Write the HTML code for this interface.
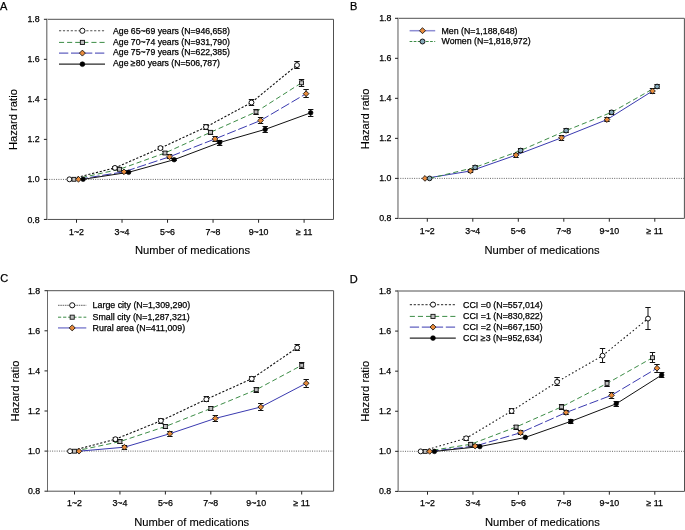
<!DOCTYPE html>
<html><head><meta charset="utf-8"><style>
html,body{margin:0;padding:0;background:#fff;width:685px;height:530px;overflow:hidden}
svg{display:block;will-change:transform;filter:blur(0.3px)}
text{font-family:"Liberation Sans", sans-serif;fill:#000;stroke:#000;stroke-width:0.25px}
</style></head><body>
<svg width="685" height="530" viewBox="0 0 685 530">
<rect width="685" height="530" fill="#fff"/>
<path d="M46.4 219.45H333.5V19.3H46.4" fill="none" stroke="#505050" stroke-width="1"/>
<rect x="46" y="19.3" width="1" height="200.15" fill="#8a8a8a"/>
<rect x="47" y="19.3" width="1" height="200.15" fill="#c8c8c8"/>
<line x1="43.9" y1="219.45" x2="46.9" y2="219.45" stroke="#222" stroke-width="1"/>
<text x="39.7" y="222.5" text-anchor="end" font-size="8.8">0.8</text>
<line x1="43.9" y1="179.42" x2="46.9" y2="179.42" stroke="#222" stroke-width="1"/>
<text x="39.7" y="182.47" text-anchor="end" font-size="8.8">1.0</text>
<line x1="43.9" y1="139.39" x2="46.9" y2="139.39" stroke="#222" stroke-width="1"/>
<text x="39.7" y="142.44" text-anchor="end" font-size="8.8">1.2</text>
<line x1="43.9" y1="99.36" x2="46.9" y2="99.36" stroke="#222" stroke-width="1"/>
<text x="39.7" y="102.41" text-anchor="end" font-size="8.8">1.4</text>
<line x1="43.9" y1="59.33" x2="46.9" y2="59.33" stroke="#222" stroke-width="1"/>
<text x="39.7" y="62.38" text-anchor="end" font-size="8.8">1.6</text>
<line x1="43.9" y1="19.3" x2="46.9" y2="19.3" stroke="#222" stroke-width="1"/>
<text x="39.7" y="22.35" text-anchor="end" font-size="8.8">1.8</text>
<line x1="76.5" y1="219.45" x2="76.5" y2="222.75" stroke="#222" stroke-width="1"/>
<text x="76.5" y="234.7" text-anchor="middle" font-size="8.8">1~2</text>
<line x1="122.02" y1="219.45" x2="122.02" y2="222.75" stroke="#222" stroke-width="1"/>
<text x="122.02" y="234.7" text-anchor="middle" font-size="8.8">3~4</text>
<line x1="167.54" y1="219.45" x2="167.54" y2="222.75" stroke="#222" stroke-width="1"/>
<text x="167.54" y="234.7" text-anchor="middle" font-size="8.8">5~6</text>
<line x1="213.06" y1="219.45" x2="213.06" y2="222.75" stroke="#222" stroke-width="1"/>
<text x="213.06" y="234.7" text-anchor="middle" font-size="8.8">7~8</text>
<line x1="258.58" y1="219.45" x2="258.58" y2="222.75" stroke="#222" stroke-width="1"/>
<text x="258.58" y="234.7" text-anchor="middle" font-size="8.8">9~10</text>
<line x1="304.1" y1="219.45" x2="304.1" y2="222.75" stroke="#222" stroke-width="1"/>
<text x="304.1" y="234.7" text-anchor="middle" font-size="8.8">≥ 11</text>
<text x="192.5" y="254.1" text-anchor="middle" font-size="11.2" style="stroke-width:0.12px">Number of medications</text>
<text transform="translate(16.9 119.6) rotate(-90)" text-anchor="middle" font-size="11.2" style="stroke-width:0.12px">Hazard ratio</text>
<text x="0.1" y="9.6" font-size="11">A</text>
<line x1="46.9" y1="179.42" x2="333.5" y2="179.42" stroke="#555" stroke-width="0.9" stroke-dasharray="1 1.3"/>
<path d="M69.4 179.3 L114.92 167.9 L160.44 148.1 L205.96 127 L251.48 102.5 L297 65.1" fill="none" stroke="#111" stroke-width="1.1" stroke-dasharray="2.2 1.7"/>
<path d="M73.95 179.3 L119.47 169.3 L164.99 153 L210.51 132.3 L256.03 111.9 L301.55 82.8" fill="none" stroke="#3c8c46" stroke-width="1.0" stroke-dasharray="5.1 3.0"/>
<path d="M78.5 179.3 L124.02 171.8 L169.54 156.8 L215.06 138.9 L260.58 120.5 L306.1 93.7" fill="none" stroke="#3a3ab0" stroke-width="1.0" stroke-dasharray="9.3 2.7"/>
<path d="M83.1 179.3 L128.62 172.3 L174.14 159.7 L219.66 142.5 L265.18 129.4 L310.7 112.8" fill="none" stroke="#111" stroke-width="1.0"/>
<path d="M114.92 166.5V169.5M112.22 166.5H117.62M112.22 169.5H117.62" fill="none" stroke="#111" stroke-width="1"/>
<path d="M160.44 146.5V149.5M157.74 146.5H163.14M157.74 149.5H163.14" fill="none" stroke="#111" stroke-width="1"/>
<path d="M205.96 124.5V129.5M203.26 124.5H208.66M203.26 129.5H208.66" fill="none" stroke="#111" stroke-width="1"/>
<path d="M251.48 99.5V105.5M248.78 99.5H254.18M248.78 105.5H254.18" fill="none" stroke="#111" stroke-width="1"/>
<path d="M297 61.5V68.5M294.3 61.5H299.7M294.3 68.5H299.7" fill="none" stroke="#111" stroke-width="1"/>
<circle cx="69.4" cy="179.3" r="2.45" fill="#fff" stroke="#111" stroke-width="1.0"/>
<circle cx="114.92" cy="167.9" r="2.45" fill="#fff" stroke="#111" stroke-width="1.0"/>
<circle cx="160.44" cy="148.1" r="2.45" fill="#fff" stroke="#111" stroke-width="1.0"/>
<circle cx="205.96" cy="127" r="2.45" fill="#fff" stroke="#111" stroke-width="1.0"/>
<circle cx="251.48" cy="102.5" r="2.45" fill="#fff" stroke="#111" stroke-width="1.0"/>
<circle cx="297" cy="65.1" r="2.45" fill="#fff" stroke="#111" stroke-width="1.0"/>
<path d="M119.47 167.5V170.5M116.77 167.5H122.17M116.77 170.5H122.17" fill="none" stroke="#111" stroke-width="1"/>
<path d="M164.99 151.5V154.5M162.29 151.5H167.69M162.29 154.5H167.69" fill="none" stroke="#111" stroke-width="1"/>
<path d="M210.51 130.5V134.5M207.81 130.5H213.21M207.81 134.5H213.21" fill="none" stroke="#111" stroke-width="1"/>
<path d="M256.03 109.5V114.5M253.33 109.5H258.73M253.33 114.5H258.73" fill="none" stroke="#111" stroke-width="1"/>
<path d="M301.55 79.5V86.5M298.85 79.5H304.25M298.85 86.5H304.25" fill="none" stroke="#111" stroke-width="1"/>
<rect x="72" y="177.35" width="3.9" height="3.9" fill="#c2c2c2" stroke="#111" stroke-width="0.9"/>
<rect x="117.52" y="167.35" width="3.9" height="3.9" fill="#c2c2c2" stroke="#111" stroke-width="0.9"/>
<rect x="163.04" y="151.05" width="3.9" height="3.9" fill="#c2c2c2" stroke="#111" stroke-width="0.9"/>
<rect x="208.56" y="130.35" width="3.9" height="3.9" fill="#c2c2c2" stroke="#111" stroke-width="0.9"/>
<rect x="254.08" y="109.95" width="3.9" height="3.9" fill="#c2c2c2" stroke="#111" stroke-width="0.9"/>
<rect x="299.6" y="80.85" width="3.9" height="3.9" fill="#c2c2c2" stroke="#111" stroke-width="0.9"/>
<path d="M124.02 170.5V173.5M121.32 170.5H126.72M121.32 173.5H126.72" fill="none" stroke="#111" stroke-width="1"/>
<path d="M169.54 154.5V158.5M166.84 154.5H172.24M166.84 158.5H172.24" fill="none" stroke="#111" stroke-width="1"/>
<path d="M215.06 136.5V141.5M212.36 136.5H217.76M212.36 141.5H217.76" fill="none" stroke="#111" stroke-width="1"/>
<path d="M260.58 117.5V123.5M257.88 117.5H263.28M257.88 123.5H263.28" fill="none" stroke="#111" stroke-width="1"/>
<path d="M306.1 89.5V97.5M303.4 89.5H308.8M303.4 97.5H308.8" fill="none" stroke="#111" stroke-width="1"/>
<path d="M78.5 176.45L81.35 179.3L78.5 182.15L75.65 179.3Z" fill="#e88b3c" stroke="#111" stroke-width="0.85"/>
<path d="M124.02 168.95L126.87 171.8L124.02 174.65L121.17 171.8Z" fill="#e88b3c" stroke="#111" stroke-width="0.85"/>
<path d="M169.54 153.95L172.39 156.8L169.54 159.65L166.69 156.8Z" fill="#e88b3c" stroke="#111" stroke-width="0.85"/>
<path d="M215.06 136.05L217.91 138.9L215.06 141.75L212.21 138.9Z" fill="#e88b3c" stroke="#111" stroke-width="0.85"/>
<path d="M260.58 117.65L263.43 120.5L260.58 123.35L257.73 120.5Z" fill="#e88b3c" stroke="#111" stroke-width="0.85"/>
<path d="M306.1 90.85L308.95 93.7L306.1 96.55L303.25 93.7Z" fill="#e88b3c" stroke="#111" stroke-width="0.85"/>
<path d="M174.14 158.5V160.5M171.44 158.5H176.84M171.44 160.5H176.84" fill="none" stroke="#111" stroke-width="1"/>
<path d="M219.66 140.5V145.5M216.96 140.5H222.36M216.96 145.5H222.36" fill="none" stroke="#111" stroke-width="1"/>
<path d="M265.18 126.5V132.5M262.48 126.5H267.88M262.48 132.5H267.88" fill="none" stroke="#111" stroke-width="1"/>
<path d="M310.7 109.5V116.5M308 109.5H313.4M308 116.5H313.4" fill="none" stroke="#111" stroke-width="1"/>
<circle cx="83.1" cy="179.3" r="2.3" fill="#000" stroke="#000" stroke-width="0.6"/>
<circle cx="128.62" cy="172.3" r="2.3" fill="#000" stroke="#000" stroke-width="0.6"/>
<circle cx="174.14" cy="159.7" r="2.3" fill="#000" stroke="#000" stroke-width="0.6"/>
<circle cx="219.66" cy="142.5" r="2.3" fill="#000" stroke="#000" stroke-width="0.6"/>
<circle cx="265.18" cy="129.4" r="2.3" fill="#000" stroke="#000" stroke-width="0.6"/>
<circle cx="310.7" cy="112.8" r="2.3" fill="#000" stroke="#000" stroke-width="0.6"/>
<line x1="59" y1="30.8" x2="105" y2="30.8" fill="none" stroke="#505050" stroke-width="1.1" stroke-dasharray="2.2 1.7"/>
<circle cx="82.4" cy="30.8" r="2.57" fill="#fff" stroke="#111" stroke-width="1.0"/>
<text x="113" y="33.7" font-size="8.7">Age 65~69 years (N=946,658)</text>
<line x1="59" y1="42.4" x2="105" y2="42.4" fill="none" stroke="#3c8c46" stroke-width="1.0" stroke-dasharray="5.1 3.0"/>
<rect x="80.35" y="40.35" width="4.09" height="4.09" fill="#c2c2c2" stroke="#111" stroke-width="0.9"/>
<text x="113" y="44.6" font-size="8.7">Age 70~74 years (N=931,790)</text>
<line x1="59" y1="53.1" x2="105" y2="53.1" fill="none" stroke="#3a3ab0" stroke-width="1.0" stroke-dasharray="9.3 2.7"/>
<path d="M82.4 50.11L85.39 53.1L82.4 56.09L79.41 53.1Z" fill="#e88b3c" stroke="#111" stroke-width="0.85"/>
<text x="113" y="55.4" font-size="8.7">Age 75~79 years (N=622,385)</text>
<line x1="59" y1="64.2" x2="105" y2="64.2" fill="none" stroke="#2a2a2a" stroke-width="1.25"/>
<circle cx="82.4" cy="64.2" r="2.42" fill="#000" stroke="#000" stroke-width="0.6"/>
<text x="113" y="66.3" font-size="8.7">Age ≥80 years (N=506,787)</text>
<path d="M397.5 218.4H684.4V18.3H397.5" fill="none" stroke="#505050" stroke-width="1"/>
<rect x="397" y="18.3" width="1" height="200.1" fill="#a8a8a8"/>
<rect x="398" y="18.3" width="1" height="200.1" fill="#b0b0b0"/>
<line x1="395" y1="218.4" x2="398" y2="218.4" stroke="#222" stroke-width="1"/>
<text x="391.4" y="221.45" text-anchor="end" font-size="8.8">0.8</text>
<line x1="395" y1="178.38" x2="398" y2="178.38" stroke="#222" stroke-width="1"/>
<text x="391.4" y="181.43" text-anchor="end" font-size="8.8">1.0</text>
<line x1="395" y1="138.36" x2="398" y2="138.36" stroke="#222" stroke-width="1"/>
<text x="391.4" y="141.41" text-anchor="end" font-size="8.8">1.2</text>
<line x1="395" y1="98.34" x2="398" y2="98.34" stroke="#222" stroke-width="1"/>
<text x="391.4" y="101.39" text-anchor="end" font-size="8.8">1.4</text>
<line x1="395" y1="58.32" x2="398" y2="58.32" stroke="#222" stroke-width="1"/>
<text x="391.4" y="61.37" text-anchor="end" font-size="8.8">1.6</text>
<line x1="395" y1="18.3" x2="398" y2="18.3" stroke="#222" stroke-width="1"/>
<text x="391.4" y="21.35" text-anchor="end" font-size="8.8">1.8</text>
<line x1="427.3" y1="218.4" x2="427.3" y2="221.7" stroke="#222" stroke-width="1"/>
<text x="427.3" y="233.9" text-anchor="middle" font-size="8.8">1~2</text>
<line x1="472.8" y1="218.4" x2="472.8" y2="221.7" stroke="#222" stroke-width="1"/>
<text x="472.8" y="233.9" text-anchor="middle" font-size="8.8">3~4</text>
<line x1="518.3" y1="218.4" x2="518.3" y2="221.7" stroke="#222" stroke-width="1"/>
<text x="518.3" y="233.9" text-anchor="middle" font-size="8.8">5~6</text>
<line x1="563.8" y1="218.4" x2="563.8" y2="221.7" stroke="#222" stroke-width="1"/>
<text x="563.8" y="233.9" text-anchor="middle" font-size="8.8">7~8</text>
<line x1="609.3" y1="218.4" x2="609.3" y2="221.7" stroke="#222" stroke-width="1"/>
<text x="609.3" y="233.9" text-anchor="middle" font-size="8.8">9~10</text>
<line x1="654.8" y1="218.4" x2="654.8" y2="221.7" stroke="#222" stroke-width="1"/>
<text x="654.8" y="233.9" text-anchor="middle" font-size="8.8">≥ 11</text>
<text x="542" y="254.1" text-anchor="middle" font-size="11.2" style="stroke-width:0.12px">Number of medications</text>
<text transform="translate(368.9 118.9) rotate(-90)" text-anchor="middle" font-size="11.2" style="stroke-width:0.12px">Hazard ratio</text>
<text x="349.9" y="9.8" font-size="11">B</text>
<line x1="398" y1="178.38" x2="684.4" y2="178.38" stroke="#555" stroke-width="0.9" stroke-dasharray="1 1.3"/>
<path d="M425 178.4 L470.5 171 L516 155.1 L561.5 137.8 L607 119.6 L652.5 91" fill="none" stroke="#3a3ab0" stroke-width="1.0"/>
<path d="M429.6 178.4 L475.1 167.4 L520.6 150.5 L566.1 130.6 L611.6 112.3 L657.1 86.5" fill="none" stroke="#3c8c46" stroke-width="1.0" stroke-dasharray="5.1 3.0"/>
<path d="M470.5 169.5V172.5M467.8 169.5H473.2M467.8 172.5H473.2" fill="none" stroke="#111" stroke-width="1"/>
<path d="M516 153.5V157.5M513.3 153.5H518.7M513.3 157.5H518.7" fill="none" stroke="#111" stroke-width="1"/>
<path d="M561.5 135.5V140.5M558.8 135.5H564.2M558.8 140.5H564.2" fill="none" stroke="#111" stroke-width="1"/>
<path d="M607 117.5V121.5M604.3 117.5H609.7M604.3 121.5H609.7" fill="none" stroke="#111" stroke-width="1"/>
<path d="M652.5 88.5V93.5M649.8 88.5H655.2M649.8 93.5H655.2" fill="none" stroke="#111" stroke-width="1"/>
<path d="M425 175.55L427.85 178.4L425 181.25L422.15 178.4Z" fill="#e88b3c" stroke="#111" stroke-width="0.85"/>
<path d="M470.5 168.15L473.35 171L470.5 173.85L467.65 171Z" fill="#e88b3c" stroke="#111" stroke-width="0.85"/>
<path d="M516 152.25L518.85 155.1L516 157.95L513.15 155.1Z" fill="#e88b3c" stroke="#111" stroke-width="0.85"/>
<path d="M561.5 134.95L564.35 137.8L561.5 140.65L558.65 137.8Z" fill="#e88b3c" stroke="#111" stroke-width="0.85"/>
<path d="M607 116.75L609.85 119.6L607 122.45L604.15 119.6Z" fill="#e88b3c" stroke="#111" stroke-width="0.85"/>
<path d="M652.5 88.15L655.35 91L652.5 93.85L649.65 91Z" fill="#e88b3c" stroke="#111" stroke-width="0.85"/>
<path d="M475.1 165.5V169.5M472.4 165.5H477.8M472.4 169.5H477.8" fill="none" stroke="#111" stroke-width="1"/>
<path d="M520.6 148.5V152.5M517.9 148.5H523.3M517.9 152.5H523.3" fill="none" stroke="#111" stroke-width="1"/>
<path d="M566.1 128.5V132.5M563.4 128.5H568.8M563.4 132.5H568.8" fill="none" stroke="#111" stroke-width="1"/>
<path d="M611.6 110.5V114.5M608.9 110.5H614.3M608.9 114.5H614.3" fill="none" stroke="#111" stroke-width="1"/>
<path d="M657.1 84.5V88.5M654.4 84.5H659.8M654.4 88.5H659.8" fill="none" stroke="#111" stroke-width="1"/>
<circle cx="429.6" cy="178.4" r="2.35" fill="#86aabb" stroke="#111" stroke-width="1.0"/>
<circle cx="475.1" cy="167.4" r="2.35" fill="#86aabb" stroke="#111" stroke-width="1.0"/>
<circle cx="520.6" cy="150.5" r="2.35" fill="#86aabb" stroke="#111" stroke-width="1.0"/>
<circle cx="566.1" cy="130.6" r="2.35" fill="#86aabb" stroke="#111" stroke-width="1.0"/>
<circle cx="611.6" cy="112.3" r="2.35" fill="#86aabb" stroke="#111" stroke-width="1.0"/>
<circle cx="657.1" cy="86.5" r="2.35" fill="#86aabb" stroke="#111" stroke-width="1.0"/>
<line x1="409.6" y1="30.7" x2="435.2" y2="30.7" fill="none" stroke="#8e8ed4" stroke-width="1.5"/>
<path d="M422.5 27.71L425.49 30.7L422.5 33.69L419.51 30.7Z" fill="#e88b3c" stroke="#111" stroke-width="0.85"/>
<text x="441.5" y="33.9" font-size="8.8">Men (N=1,188,648)</text>
<line x1="409.6" y1="41.5" x2="435.2" y2="41.5" fill="none" stroke="#3c8c46" stroke-width="1.0" stroke-dasharray="2.7 1.4"/>
<circle cx="422.5" cy="41.5" r="2.47" fill="#86aabb" stroke="#111" stroke-width="1.0"/>
<text x="441.5" y="44.3" font-size="8.8">Women (N=1,818,972)</text>
<path d="M47 491.2H333.6V290.7H47" fill="none" stroke="#505050" stroke-width="1"/>
<rect x="47" y="290.7" width="1" height="200.5" fill="#6a6a6a"/>
<line x1="44.5" y1="491.2" x2="47.5" y2="491.2" stroke="#222" stroke-width="1"/>
<text x="40.2" y="494.25" text-anchor="end" font-size="8.8">0.8</text>
<line x1="44.5" y1="451.1" x2="47.5" y2="451.1" stroke="#222" stroke-width="1"/>
<text x="40.2" y="454.15" text-anchor="end" font-size="8.8">1.0</text>
<line x1="44.5" y1="411" x2="47.5" y2="411" stroke="#222" stroke-width="1"/>
<text x="40.2" y="414.05" text-anchor="end" font-size="8.8">1.2</text>
<line x1="44.5" y1="370.9" x2="47.5" y2="370.9" stroke="#222" stroke-width="1"/>
<text x="40.2" y="373.95" text-anchor="end" font-size="8.8">1.4</text>
<line x1="44.5" y1="330.8" x2="47.5" y2="330.8" stroke="#222" stroke-width="1"/>
<text x="40.2" y="333.85" text-anchor="end" font-size="8.8">1.6</text>
<line x1="44.5" y1="290.7" x2="47.5" y2="290.7" stroke="#222" stroke-width="1"/>
<text x="40.2" y="293.75" text-anchor="end" font-size="8.8">1.8</text>
<line x1="74.5" y1="491.2" x2="74.5" y2="494.5" stroke="#222" stroke-width="1"/>
<text x="74.5" y="505.6" text-anchor="middle" font-size="8.8">1~2</text>
<line x1="119.94" y1="491.2" x2="119.94" y2="494.5" stroke="#222" stroke-width="1"/>
<text x="119.94" y="505.6" text-anchor="middle" font-size="8.8">3~4</text>
<line x1="165.38" y1="491.2" x2="165.38" y2="494.5" stroke="#222" stroke-width="1"/>
<text x="165.38" y="505.6" text-anchor="middle" font-size="8.8">5~6</text>
<line x1="210.82" y1="491.2" x2="210.82" y2="494.5" stroke="#222" stroke-width="1"/>
<text x="210.82" y="505.6" text-anchor="middle" font-size="8.8">7~8</text>
<line x1="256.26" y1="491.2" x2="256.26" y2="494.5" stroke="#222" stroke-width="1"/>
<text x="256.26" y="505.6" text-anchor="middle" font-size="8.8">9~10</text>
<line x1="301.7" y1="491.2" x2="301.7" y2="494.5" stroke="#222" stroke-width="1"/>
<text x="301.7" y="505.6" text-anchor="middle" font-size="8.8">≥ 11</text>
<text x="191.7" y="525.8" text-anchor="middle" font-size="11.2" style="stroke-width:0.12px">Number of medications</text>
<text transform="translate(18.6 391.1) rotate(-90)" text-anchor="middle" font-size="11.2" style="stroke-width:0.12px">Hazard ratio</text>
<text x="0.2" y="282.4" font-size="11">C</text>
<line x1="47.5" y1="451.1" x2="333.6" y2="451.1" stroke="#555" stroke-width="0.9" stroke-dasharray="1 1.3"/>
<path d="M70 451.2 L115.44 439.2 L160.88 420.8 L206.32 399.3 L251.76 378.8 L297.2 347.7" fill="none" stroke="#111" stroke-width="1.1" stroke-dasharray="2.2 1.7"/>
<path d="M74.5 451.2 L119.94 441.6 L165.38 426.5 L210.82 408.5 L256.26 389.7 L301.7 365.3" fill="none" stroke="#3c8c46" stroke-width="1.0" stroke-dasharray="5.1 3.0"/>
<path d="M79 451.2 L124.44 447.2 L169.88 433.7 L215.32 418.4 L260.76 407 L306.2 383.3" fill="none" stroke="#3a3ab0" stroke-width="1.0"/>
<path d="M115.44 437.5V441.5M112.74 437.5H118.14M112.74 441.5H118.14" fill="none" stroke="#111" stroke-width="1"/>
<path d="M160.88 418.5V423.5M158.18 418.5H163.58M158.18 423.5H163.58" fill="none" stroke="#111" stroke-width="1"/>
<path d="M206.32 396.5V401.5M203.62 396.5H209.02M203.62 401.5H209.02" fill="none" stroke="#111" stroke-width="1"/>
<path d="M251.76 376.5V381.5M249.06 376.5H254.46M249.06 381.5H254.46" fill="none" stroke="#111" stroke-width="1"/>
<path d="M297.2 344.5V350.5M294.5 344.5H299.9M294.5 350.5H299.9" fill="none" stroke="#111" stroke-width="1"/>
<circle cx="70" cy="451.2" r="2.45" fill="#fff" stroke="#111" stroke-width="1.0"/>
<circle cx="115.44" cy="439.2" r="2.45" fill="#fff" stroke="#111" stroke-width="1.0"/>
<circle cx="160.88" cy="420.8" r="2.45" fill="#fff" stroke="#111" stroke-width="1.0"/>
<circle cx="206.32" cy="399.3" r="2.45" fill="#fff" stroke="#111" stroke-width="1.0"/>
<circle cx="251.76" cy="378.8" r="2.45" fill="#fff" stroke="#111" stroke-width="1.0"/>
<circle cx="297.2" cy="347.7" r="2.45" fill="#fff" stroke="#111" stroke-width="1.0"/>
<path d="M119.94 439.5V443.5M117.24 439.5H122.64M117.24 443.5H122.64" fill="none" stroke="#111" stroke-width="1"/>
<path d="M165.38 424.5V428.5M162.68 424.5H168.08M162.68 428.5H168.08" fill="none" stroke="#111" stroke-width="1"/>
<path d="M210.82 406.5V410.5M208.12 406.5H213.52M208.12 410.5H213.52" fill="none" stroke="#111" stroke-width="1"/>
<path d="M256.26 387.5V392.5M253.56 387.5H258.96M253.56 392.5H258.96" fill="none" stroke="#111" stroke-width="1"/>
<path d="M301.7 362.5V368.5M299 362.5H304.4M299 368.5H304.4" fill="none" stroke="#111" stroke-width="1"/>
<rect x="72.55" y="449.25" width="3.9" height="3.9" fill="#c2c2c2" stroke="#111" stroke-width="0.9"/>
<rect x="117.99" y="439.65" width="3.9" height="3.9" fill="#c2c2c2" stroke="#111" stroke-width="0.9"/>
<rect x="163.43" y="424.55" width="3.9" height="3.9" fill="#c2c2c2" stroke="#111" stroke-width="0.9"/>
<rect x="208.87" y="406.55" width="3.9" height="3.9" fill="#c2c2c2" stroke="#111" stroke-width="0.9"/>
<rect x="254.31" y="387.75" width="3.9" height="3.9" fill="#c2c2c2" stroke="#111" stroke-width="0.9"/>
<rect x="299.75" y="363.35" width="3.9" height="3.9" fill="#c2c2c2" stroke="#111" stroke-width="0.9"/>
<path d="M124.44 445.5V449.5M121.74 445.5H127.14M121.74 449.5H127.14" fill="none" stroke="#111" stroke-width="1"/>
<path d="M169.88 431.5V436.5M167.18 431.5H172.58M167.18 436.5H172.58" fill="none" stroke="#111" stroke-width="1"/>
<path d="M215.32 415.5V421.5M212.62 415.5H218.02M212.62 421.5H218.02" fill="none" stroke="#111" stroke-width="1"/>
<path d="M260.76 403.5V410.5M258.06 403.5H263.46M258.06 410.5H263.46" fill="none" stroke="#111" stroke-width="1"/>
<path d="M306.2 379.5V387.5M303.5 379.5H308.9M303.5 387.5H308.9" fill="none" stroke="#111" stroke-width="1"/>
<path d="M79 448.35L81.85 451.2L79 454.05L76.15 451.2Z" fill="#e88b3c" stroke="#111" stroke-width="0.85"/>
<path d="M124.44 444.35L127.29 447.2L124.44 450.05L121.59 447.2Z" fill="#e88b3c" stroke="#111" stroke-width="0.85"/>
<path d="M169.88 430.85L172.73 433.7L169.88 436.55L167.03 433.7Z" fill="#e88b3c" stroke="#111" stroke-width="0.85"/>
<path d="M215.32 415.55L218.17 418.4L215.32 421.25L212.47 418.4Z" fill="#e88b3c" stroke="#111" stroke-width="0.85"/>
<path d="M260.76 404.15L263.61 407L260.76 409.85L257.91 407Z" fill="#e88b3c" stroke="#111" stroke-width="0.85"/>
<path d="M306.2 380.45L309.05 383.3L306.2 386.15L303.35 383.3Z" fill="#e88b3c" stroke="#111" stroke-width="0.85"/>
<line x1="58" y1="305.3" x2="86.3" y2="305.3" fill="none" stroke="#666" stroke-width="1.0" stroke-dasharray="1.6 0.7"/>
<circle cx="72.2" cy="305.3" r="2.57" fill="#fff" stroke="#111" stroke-width="1.0"/>
<text x="92.6" y="308.3" font-size="8.85">Large city (N=1,309,290)</text>
<line x1="58" y1="317.2" x2="86.3" y2="317.2" fill="none" stroke="#3c8c46" stroke-width="1.0" stroke-dasharray="3.2 1.9"/>
<rect x="70.15" y="315.15" width="4.09" height="4.09" fill="#c2c2c2" stroke="#111" stroke-width="0.9"/>
<text x="92.6" y="320" font-size="8.85">Small city (N=1,287,321)</text>
<line x1="58" y1="327.9" x2="86.3" y2="327.9" fill="none" stroke="#8e8ed4" stroke-width="1.6"/>
<path d="M72.2 324.91L75.19 327.9L72.2 330.89L69.21 327.9Z" fill="#e88b3c" stroke="#111" stroke-width="0.85"/>
<text x="92.6" y="331" font-size="8.85">Rural area (N=411,009)</text>
<path d="M397.6 491.4H684.5V291H397.6" fill="none" stroke="#505050" stroke-width="1"/>
<rect x="397" y="291" width="1" height="200.4" fill="#bdbdbd"/>
<rect x="398" y="291" width="1" height="200.4" fill="#999999"/>
<line x1="395.1" y1="491.4" x2="398.1" y2="491.4" stroke="#222" stroke-width="1"/>
<text x="391.2" y="494.45" text-anchor="end" font-size="8.8">0.8</text>
<line x1="395.1" y1="451.32" x2="398.1" y2="451.32" stroke="#222" stroke-width="1"/>
<text x="391.2" y="454.37" text-anchor="end" font-size="8.8">1.0</text>
<line x1="395.1" y1="411.24" x2="398.1" y2="411.24" stroke="#222" stroke-width="1"/>
<text x="391.2" y="414.29" text-anchor="end" font-size="8.8">1.2</text>
<line x1="395.1" y1="371.16" x2="398.1" y2="371.16" stroke="#222" stroke-width="1"/>
<text x="391.2" y="374.21" text-anchor="end" font-size="8.8">1.4</text>
<line x1="395.1" y1="331.08" x2="398.1" y2="331.08" stroke="#222" stroke-width="1"/>
<text x="391.2" y="334.13" text-anchor="end" font-size="8.8">1.6</text>
<line x1="395.1" y1="291" x2="398.1" y2="291" stroke="#222" stroke-width="1"/>
<text x="391.2" y="294.05" text-anchor="end" font-size="8.8">1.8</text>
<line x1="427.5" y1="491.4" x2="427.5" y2="494.7" stroke="#222" stroke-width="1"/>
<text x="427.5" y="506" text-anchor="middle" font-size="8.8">1~2</text>
<line x1="472.96" y1="491.4" x2="472.96" y2="494.7" stroke="#222" stroke-width="1"/>
<text x="472.96" y="506" text-anchor="middle" font-size="8.8">3~4</text>
<line x1="518.42" y1="491.4" x2="518.42" y2="494.7" stroke="#222" stroke-width="1"/>
<text x="518.42" y="506" text-anchor="middle" font-size="8.8">5~6</text>
<line x1="563.88" y1="491.4" x2="563.88" y2="494.7" stroke="#222" stroke-width="1"/>
<text x="563.88" y="506" text-anchor="middle" font-size="8.8">7~8</text>
<line x1="609.34" y1="491.4" x2="609.34" y2="494.7" stroke="#222" stroke-width="1"/>
<text x="609.34" y="506" text-anchor="middle" font-size="8.8">9~10</text>
<line x1="654.8" y1="491.4" x2="654.8" y2="494.7" stroke="#222" stroke-width="1"/>
<text x="654.8" y="506" text-anchor="middle" font-size="8.8">≥ 11</text>
<text x="542.4" y="526.4" text-anchor="middle" font-size="11.2" style="stroke-width:0.12px">Number of medications</text>
<text transform="translate(369.3 391.3) rotate(-90)" text-anchor="middle" font-size="11.2" style="stroke-width:0.12px">Hazard ratio</text>
<text x="349.7" y="282.6" font-size="11">D</text>
<line x1="398.1" y1="451.32" x2="684.5" y2="451.32" stroke="#555" stroke-width="0.9" stroke-dasharray="1 1.3"/>
<path d="M420.7 451.4 L466.16 438.3 L511.62 411 L557.08 381.9 L602.54 355.7 L648 318.6" fill="none" stroke="#111" stroke-width="1.05" stroke-dasharray="1.6 2.3"/>
<path d="M425.2 451.4 L470.66 444.3 L516.12 427 L561.58 406.9 L607.04 383.4 L652.5 357.7" fill="none" stroke="#3c8c46" stroke-width="1.0" stroke-dasharray="5.1 3.0"/>
<path d="M429.7 451.4 L475.16 446.1 L520.62 432.7 L566.08 412.5 L611.54 395.3 L657 368.2" fill="none" stroke="#3a3ab0" stroke-width="1.0" stroke-dasharray="9.3 2.7"/>
<path d="M434.4 451.4 L479.86 446.6 L525.32 437.4 L570.78 421.4 L616.24 403.8 L661.7 375" fill="none" stroke="#111" stroke-width="1.0"/>
<path d="M466.16 436.5V440.5M463.46 436.5H468.86M463.46 440.5H468.86" fill="none" stroke="#111" stroke-width="1"/>
<path d="M511.62 408.5V413.5M508.92 408.5H514.32M508.92 413.5H514.32" fill="none" stroke="#111" stroke-width="1"/>
<path d="M557.08 377.5V385.5M554.38 377.5H559.78M554.38 385.5H559.78" fill="none" stroke="#111" stroke-width="1"/>
<path d="M602.54 348.5V362.5M599.84 348.5H605.24M599.84 362.5H605.24" fill="none" stroke="#111" stroke-width="1"/>
<path d="M648 307.5V329.5M645.3 307.5H650.7M645.3 329.5H650.7" fill="none" stroke="#111" stroke-width="1"/>
<circle cx="420.7" cy="451.4" r="2.45" fill="#fff" stroke="#111" stroke-width="1.0"/>
<circle cx="466.16" cy="438.3" r="2.45" fill="#fff" stroke="#111" stroke-width="1.0"/>
<circle cx="511.62" cy="411" r="2.45" fill="#fff" stroke="#111" stroke-width="1.0"/>
<circle cx="557.08" cy="381.9" r="2.45" fill="#fff" stroke="#111" stroke-width="1.0"/>
<circle cx="602.54" cy="355.7" r="2.45" fill="#fff" stroke="#111" stroke-width="1.0"/>
<circle cx="648" cy="318.6" r="2.45" fill="#fff" stroke="#111" stroke-width="1.0"/>
<path d="M470.66 442.5V445.5M467.96 442.5H473.36M467.96 445.5H473.36" fill="none" stroke="#111" stroke-width="1"/>
<path d="M516.12 425.5V429.5M513.42 425.5H518.82M513.42 429.5H518.82" fill="none" stroke="#111" stroke-width="1"/>
<path d="M561.58 404.5V409.5M558.88 404.5H564.28M558.88 409.5H564.28" fill="none" stroke="#111" stroke-width="1"/>
<path d="M607.04 380.5V386.5M604.34 380.5H609.74M604.34 386.5H609.74" fill="none" stroke="#111" stroke-width="1"/>
<path d="M652.5 352.5V362.5M649.8 352.5H655.2M649.8 362.5H655.2" fill="none" stroke="#111" stroke-width="1"/>
<rect x="423.25" y="449.45" width="3.9" height="3.9" fill="#c2c2c2" stroke="#111" stroke-width="0.9"/>
<rect x="468.71" y="442.35" width="3.9" height="3.9" fill="#c2c2c2" stroke="#111" stroke-width="0.9"/>
<rect x="514.17" y="425.05" width="3.9" height="3.9" fill="#c2c2c2" stroke="#111" stroke-width="0.9"/>
<rect x="559.63" y="404.95" width="3.9" height="3.9" fill="#c2c2c2" stroke="#111" stroke-width="0.9"/>
<rect x="605.09" y="381.45" width="3.9" height="3.9" fill="#c2c2c2" stroke="#111" stroke-width="0.9"/>
<rect x="650.55" y="355.75" width="3.9" height="3.9" fill="#c2c2c2" stroke="#111" stroke-width="0.9"/>
<path d="M475.16 444.5V447.5M472.46 444.5H477.86M472.46 447.5H477.86" fill="none" stroke="#111" stroke-width="1"/>
<path d="M520.62 430.5V434.5M517.92 430.5H523.32M517.92 434.5H523.32" fill="none" stroke="#111" stroke-width="1"/>
<path d="M566.08 410.5V414.5M563.38 410.5H568.78M563.38 414.5H568.78" fill="none" stroke="#111" stroke-width="1"/>
<path d="M611.54 392.5V398.5M608.84 392.5H614.24M608.84 398.5H614.24" fill="none" stroke="#111" stroke-width="1"/>
<path d="M657 364.5V372.5M654.3 364.5H659.7M654.3 372.5H659.7" fill="none" stroke="#111" stroke-width="1"/>
<path d="M429.7 448.55L432.55 451.4L429.7 454.25L426.85 451.4Z" fill="#e88b3c" stroke="#111" stroke-width="0.85"/>
<path d="M475.16 443.25L478.01 446.1L475.16 448.95L472.31 446.1Z" fill="#e88b3c" stroke="#111" stroke-width="0.85"/>
<path d="M520.62 429.85L523.47 432.7L520.62 435.55L517.77 432.7Z" fill="#e88b3c" stroke="#111" stroke-width="0.85"/>
<path d="M566.08 409.65L568.93 412.5L566.08 415.35L563.23 412.5Z" fill="#e88b3c" stroke="#111" stroke-width="0.85"/>
<path d="M611.54 392.45L614.39 395.3L611.54 398.15L608.69 395.3Z" fill="#e88b3c" stroke="#111" stroke-width="0.85"/>
<path d="M657 365.35L659.85 368.2L657 371.05L654.15 368.2Z" fill="#e88b3c" stroke="#111" stroke-width="0.85"/>
<path d="M570.78 419.5V423.5M568.08 419.5H573.48M568.08 423.5H573.48" fill="none" stroke="#111" stroke-width="1"/>
<path d="M616.24 401.5V406.5M613.54 401.5H618.94M613.54 406.5H618.94" fill="none" stroke="#111" stroke-width="1"/>
<path d="M661.7 372.5V377.5M659 372.5H664.4M659 377.5H664.4" fill="none" stroke="#111" stroke-width="1"/>
<circle cx="434.4" cy="451.4" r="2.3" fill="#000" stroke="#000" stroke-width="0.6"/>
<circle cx="479.86" cy="446.6" r="2.3" fill="#000" stroke="#000" stroke-width="0.6"/>
<circle cx="525.32" cy="437.4" r="2.3" fill="#000" stroke="#000" stroke-width="0.6"/>
<circle cx="570.78" cy="421.4" r="2.3" fill="#000" stroke="#000" stroke-width="0.6"/>
<circle cx="616.24" cy="403.8" r="2.3" fill="#000" stroke="#000" stroke-width="0.6"/>
<circle cx="661.7" cy="375" r="2.3" fill="#000" stroke="#000" stroke-width="0.6"/>
<line x1="409.8" y1="304.6" x2="455.8" y2="304.6" fill="none" stroke="#505050" stroke-width="1.1" stroke-dasharray="2.2 1.7"/>
<circle cx="433" cy="304.6" r="2.57" fill="#fff" stroke="#111" stroke-width="1.0"/>
<text x="463.1" y="307.7" font-size="8.85">CCI =0 (N=557,014)</text>
<line x1="409.8" y1="316.4" x2="455.8" y2="316.4" fill="none" stroke="#3c8c46" stroke-width="1.0" stroke-dasharray="5.1 3.0"/>
<rect x="430.95" y="314.35" width="4.09" height="4.09" fill="#c2c2c2" stroke="#111" stroke-width="0.9"/>
<text x="463.1" y="319.2" font-size="8.85">CCI =1 (N=830,822)</text>
<line x1="409.8" y1="327.1" x2="455.8" y2="327.1" fill="none" stroke="#3a3ab0" stroke-width="1.0" stroke-dasharray="9.3 2.7"/>
<path d="M433 324.11L435.99 327.1L433 330.09L430.01 327.1Z" fill="#e88b3c" stroke="#111" stroke-width="0.85"/>
<text x="463.1" y="330.2" font-size="8.85">CCI =2 (N=667,150)</text>
<line x1="409.8" y1="338.1" x2="455.8" y2="338.1" fill="none" stroke="#2a2a2a" stroke-width="1.25"/>
<circle cx="433" cy="338.1" r="2.42" fill="#000" stroke="#000" stroke-width="0.6"/>
<text x="463.1" y="340.6" font-size="8.85">CCI ≥3 (N=952,634)</text>
</svg>
</body></html>
